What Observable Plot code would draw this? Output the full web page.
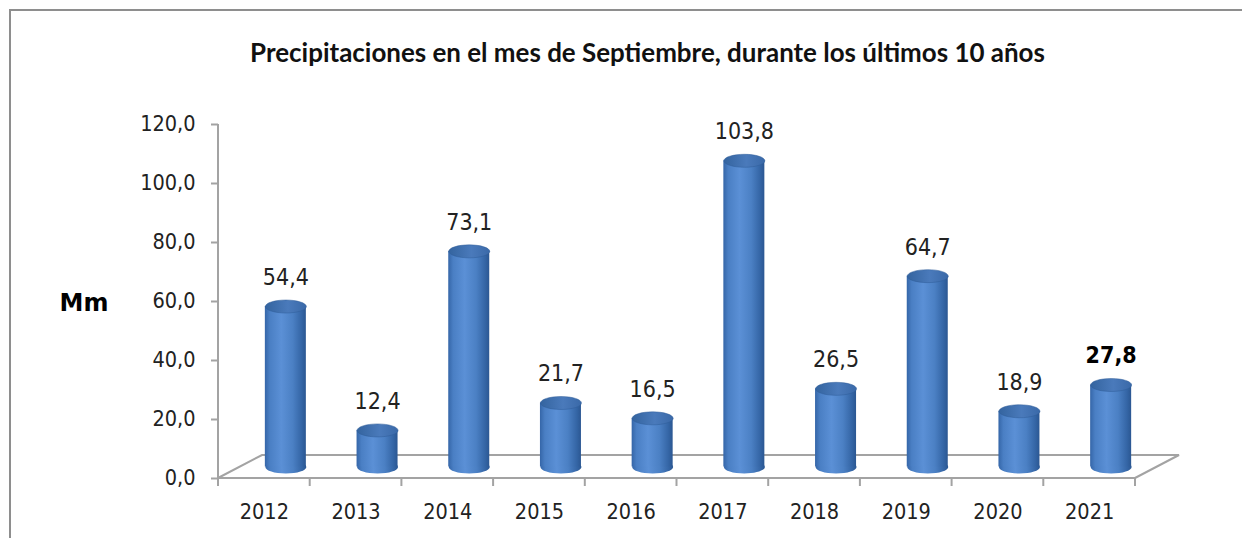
<!DOCTYPE html>
<html>
<head>
<meta charset="utf-8">
<script src="https://cdn.jsdelivr.net/npm/d3@7"></script>
<script src="https://cdn.jsdelivr.net/npm/@observablehq/plot@0.6"></script>
<style>
  html, body { margin: 0; padding: 0; background: #fff; }
  #wrap { position: relative; width: 1242px; height: 538px; overflow: hidden; background: #fff; }
  #border { position: absolute; left: 9px; top: 9px; width: 1400px; height: 700px;
            border-left: 2px solid #8e8e8e; border-top: 2px solid #8e8e8e; }
  #title { position: absolute; left: 0; top: 52px; width: 1295px; text-align: center;
           transform: translateY(-50%); font-family: Lato, "Open Sans", sans-serif;
           font-weight: 700; font-size: 24px; color: #111; white-space: nowrap; }
  #title span { display: inline-block; }
  #chart { position: absolute; left: 0; top: 90px; }
</style>
</head>
<body>
<div id="wrap">
  <div id="border"></div>
  <div id="title"><span id="titleText">Precipitaciones en el mes de Septiembre, durante los últimos 10 años</span></div>
  <div id="chart"></div>
</div>
<script>
// ---- data ----
const years = ["2012", "2013", "2014", "2015", "2016", "2017", "2018", "2019", "2020", "2021"];
const values = [54.4, 12.4, 73.1, 21.7, 16.5, 103.8, 26.5, 64.7, 18.9, 27.8];
const yTicks = [0, 20, 40, 60, 80, 100, 120];
const highlightYear = "2021";
const yLabel = "Mm";

// ---- helpers / styles ----
const fmt = v => v.toFixed(1).replace(".", ",");
const data = years.map((year, i) => ({ year, value: values[i], label: fmt(values[i]), bold: year === highlightYear }));

const DX = 21.5, DY = -11.5;       // mid-depth offset of the cylinders
const FX = 44, FY = -23;           // floor depth offset
const axisColor = "#a3a3a3";
const textColor = "#222";
const RX = 20.5, RY = 6.5;

const ellipseSymbol = {
  draw(ctx) {
    const k = 0.5523;
    ctx.moveTo(RX, 0);
    ctx.bezierCurveTo(RX, RY * k, RX * k, RY, 0, RY);
    ctx.bezierCurveTo(-RX * k, RY, -RX, RY * k, -RX, 0);
    ctx.bezierCurveTo(-RX, -RY * k, -RX * k, -RY, 0, -RY);
    ctx.bezierCurveTo(RX * k, -RY, RX, -RY * k, RX, 0);
    ctx.closePath();
  }
};

// floor, y-axis line and x tick marks drawn from Plot's scales
function floorMark(index, scales, values, dims) {
  const X = typeof scales.x === "function" ? scales.x : scales.x.apply;
  const Y = typeof scales.y === "function" ? scales.y : scales.y.apply;
  const x0 = dims.marginLeft, x1 = dims.width - dims.marginRight;
  const y0 = Y(0), yTop = Y(d3.max(yTicks));
  const g = d3.create("svg:g")
    .attr("fill", "none").attr("stroke", axisColor).attr("stroke-width", 2);
  g.append("path")
    .attr("d", `M${x0},${y0}L${x0 + FX},${y0 + FY}L${x1 + FX},${y0 + FY}L${x1},${y0}`);
  g.append("path").attr("d", `M${x0},${y0}L${x1},${y0}`);
  g.append("path").attr("d", `M${x0},${y0}L${x0},${yTop}`);
  const bounds = years.map(y => X(y)).concat([x1]);
  for (const b of bounds) g.append("path").attr("d", `M${b},${y0}L${b},${y0 + 8}`);
  return g.node();
}

const chart = Plot.plot({
  width: 1242,
  height: 448,
  marginLeft: 218,
  marginRight: 107,
  marginTop: 34,
  marginBottom: 60,
  style: { fontFamily: "'DejaVu Sans Condensed', 'DejaVu Sans', sans-serif", fontSize: "21.5px", color: textColor, background: "transparent", overflow: "visible" },
  x: { type: "band", domain: years, padding: 0, round: false, label: null },
  y: { domain: [0, 120], nice: false, label: null },
  marks: [
    floorMark,
    Plot.axisY({ ticks: yTicks, tickFormat: fmt, tickSize: 7, tickPadding: 16, stroke: axisColor, strokeWidth: 2, fill: textColor, label: null }),
    Plot.axisX({ tickSize: 0, tickPadding: 25, fill: textColor, label: null }),
    // bottom ellipse of each cylinder
    Plot.dot(data, { x: "year", y: () => 0, dx: DX, dy: DY, symbol: ellipseSymbol, fill: "url(#cylBody)", stroke: "none" }),
    // cylinder body
    Plot.barY(data, { x: "year", y: "value", dx: DX, dy: DY, insetLeft: 25.35, insetRight: 25.35, fill: "url(#cylBody)" }),
    // top ellipse
    Plot.dot(data, { x: "year", y: "value", dx: DX, dy: DY, symbol: ellipseSymbol, fill: "url(#cylTop)", stroke: "#2f5d99", strokeWidth: 0.5 }),
    // value labels
    Plot.text(data.filter(d => !d.bold), { x: "year", y: "value", text: "label", dx: DX, dy: DY - 29, fill: textColor, fontSize: 23 }),
    Plot.text(data.filter(d => d.bold), { x: "year", y: "value", text: "label", dx: DX, dy: DY - 29, fill: "#000", fontSize: 23, fontWeight: "bold" }),
    // y label
    Plot.text([yLabel], { frameAnchor: "left", textAnchor: "middle", dx: -134.5, dy: 2, fontWeight: "bold", fontSize: 24, fontFamily: "'DejaVu Sans', sans-serif", fill: "#000" })
  ]
});

chart.insertAdjacentHTML("afterbegin", `
<defs>
  <linearGradient id="cylBody" x1="0" y1="0" x2="1" y2="0">
    <stop offset="0" stop-color="#3566a8"/>
    <stop offset="0.12" stop-color="#4a7fc4"/>
    <stop offset="0.4" stop-color="#5b90d6"/>
    <stop offset="0.68" stop-color="#4b80c4"/>
    <stop offset="0.9" stop-color="#3465a5"/>
    <stop offset="1" stop-color="#2b5792"/>
  </linearGradient>
  <linearGradient id="cylTop" x1="0" y1="0" x2="1" y2="0">
    <stop offset="0" stop-color="#34649f"/>
    <stop offset="0.55" stop-color="#4a7abb"/>
    <stop offset="1" stop-color="#3a69a8"/>
  </linearGradient>
</defs>`);

document.getElementById("chart").appendChild(chart);

// fit title to the reference width
const t = document.getElementById("titleText");
const w = t.getBoundingClientRect().width;
if (w > 0) {
  const fs = 24 * 795 / w;
  document.getElementById("title").style.fontSize = fs.toFixed(2) + "px";
}
</script>
</body>
</html>
